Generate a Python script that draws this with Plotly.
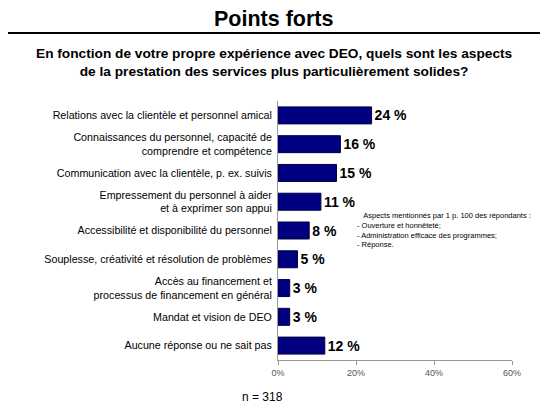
import plotly.graph_objects as go

categories = [
    "Relations avec la clientèle et personnel amical",
    "Connaissances du personnel, capacité de<br>comprendre et compétence",
    "Communication avec la clientèle, p. ex. suivis",
    "Empressement du personnel à aider<br>et à exprimer son appui",
    "Accessibilité et disponibilité du personnel",
    "Souplesse, créativité et résolution de problèmes",
    "Accès au financement et<br>processus de financement en général",
    "Mandat et vision de DEO",
    "Aucune réponse ou ne sait pas",
]
values = [24, 16, 15, 11, 8, 5, 3, 3, 12]
tick_vals = [0, 20, 40, 60]
tick_text = ["0%", "20%", "40%", "60%"]
note_lines = [
    "&nbsp;&nbsp;&nbsp;Aspects mentionnés par 1 p. 100 des répondants :",
    "- Ouverture et honnêteté;",
    "- Administration efficace des programmes;",
    "- Réponse.",
]

# zone du graphique dans la page (la page ajoute 8 px de marge au body)
PL, PT, PR, PB = 278, 101, 512, 360
OFF = 8


def px(x):
    return (x - PL) / (PR - PL)


def py(y):
    return 1 - (y - PT) / (PB - PT)


fig = go.Figure(go.Bar(
    x=values,
    y=categories,
    orientation="h",
    marker=dict(color="#000080", line=dict(color="#000040", width=1)),
    text=[f"{v} %" for v in values],
    textposition="outside",
    textfont=dict(family="Liberation Sans, Arial", size=14, color="black", weight="bold"),
    cliponaxis=False,
))

W, H = 548 - OFF, 411 - OFF
fig.update_layout(
    width=W, height=H,
    margin=dict(l=PL - OFF, r=W - (PR - OFF), t=PT - OFF, b=H - (PB - OFF), autoexpand=False),
    paper_bgcolor="white", plot_bgcolor="white",
    bargap=0.41,
    showlegend=False,
    font=dict(family="Liberation Sans, Arial", size=11, color="black"),
)
fig.update_yaxes(
    autorange="reversed",
    showline=True, linecolor="#999999", linewidth=1,
    ticks="", ticklabelstandoff=3,
    tickfont=dict(size=10.7),
)
fig.update_xaxes(
    range=[0, 60], tickvals=tick_vals, ticktext=tick_text,
    showgrid=False, zeroline=False,
    showline=True, linecolor="#999999", linewidth=1,
    ticks="outside", ticklen=4, tickcolor="#999999",
    tickfont=dict(size=9, color="#555555"),
)

# titre, ligne et sous-titre
fig.add_annotation(
    text="<b>Points forts</b>", showarrow=False,
    xref="paper", yref="paper", x=px(273), y=py(19),
    xanchor="center", yanchor="middle", font=dict(size=21.5),
)
fig.add_shape(type="line", xref="paper", yref="paper",
              x0=px(0), x1=px(560), y0=py(33), y1=py(33),
              line=dict(color="black", width=2))
fig.add_annotation(
    text="<b>En fonction de votre propre expérience avec DEO, quels sont les aspects<br>"
         "de la prestation des services plus particulièrement solides?</b>",
    showarrow=False, xref="paper", yref="paper",
    x=px(274), y=py(62),
    xanchor="center", yanchor="middle", font=dict(size=13.7),
)
fig.add_annotation(
    text="<br>".join(note_lines), showarrow=False, xref="paper", yref="paper",
    align="left", x=px(355), y=py(230), xanchor="left", yanchor="middle",
    font=dict(size=7.5),
)
fig.add_annotation(
    text="n = 318", showarrow=False, xref="paper", yref="paper",
    x=px(262), y=py(397),
    xanchor="center", yanchor="middle", font=dict(size=12),
)

fig.write_html("out.html")
